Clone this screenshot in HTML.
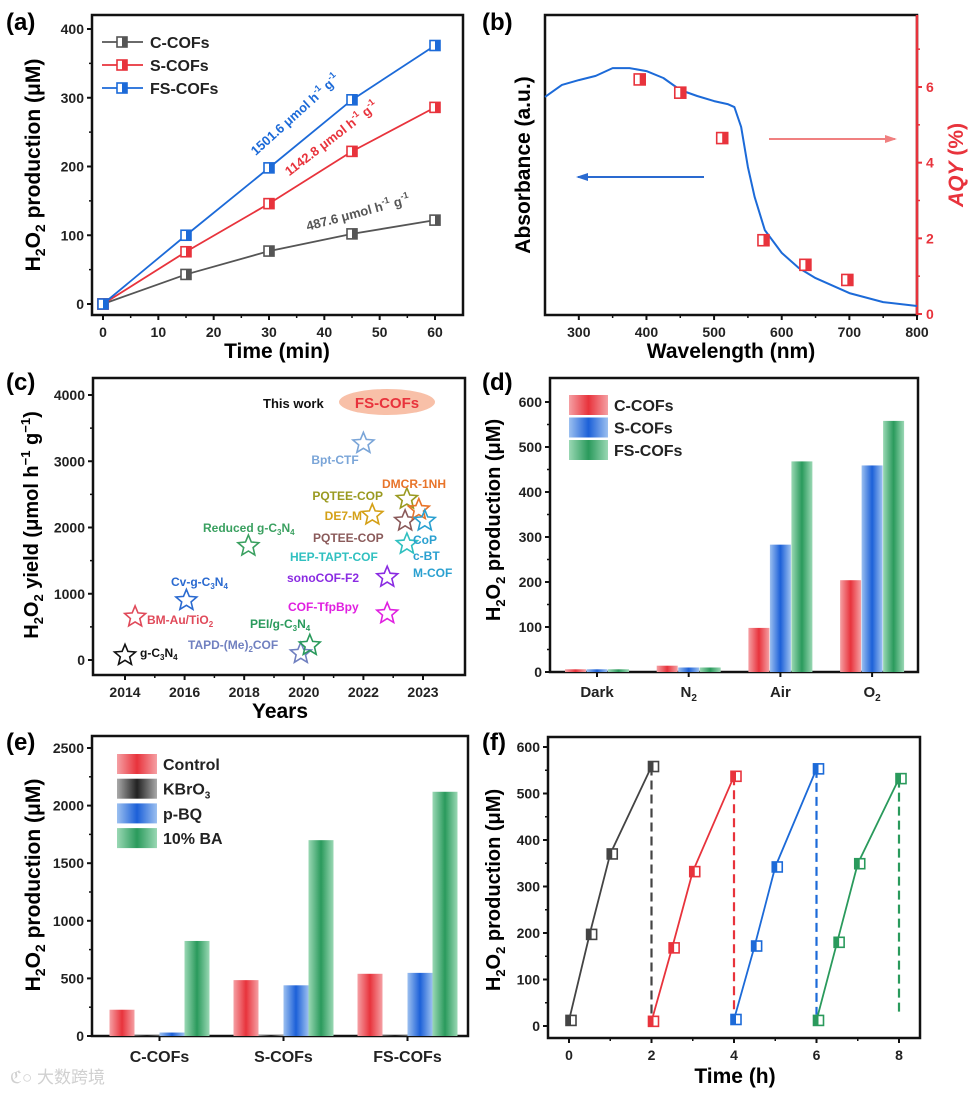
<!DOCTYPE html>
<html><head><meta charset="utf-8">
<style>
html,body{margin:0;padding:0;background:#fff;}
svg{display:block;font-family:"Liberation Sans","Noto Sans CJK SC",sans-serif;font-weight:bold;}
</style></head>
<body>
<svg id="fig" width="974" height="1094" viewBox="0 0 974 1094" xmlns="http://www.w3.org/2000/svg">
<defs>
<linearGradient id="gRed" x1="0" x2="1" y1="0" y2="0"><stop offset="0" stop-color="#f5a0a4"/><stop offset="0.5" stop-color="#e8333c"/><stop offset="1" stop-color="#f5a0a4"/></linearGradient>
<linearGradient id="gBlue" x1="0" x2="1" y1="0" y2="0"><stop offset="0" stop-color="#9cc0f0"/><stop offset="0.5" stop-color="#1c60d8"/><stop offset="1" stop-color="#9cc0f0"/></linearGradient>
<linearGradient id="gGreen" x1="0" x2="1" y1="0" y2="0"><stop offset="0" stop-color="#9ad8b4"/><stop offset="0.5" stop-color="#2a9a5c"/><stop offset="1" stop-color="#9ad8b4"/></linearGradient>
<linearGradient id="gBlack" x1="0" x2="1" y1="0" y2="0"><stop offset="0" stop-color="#aaa"/><stop offset="0.5" stop-color="#222"/><stop offset="1" stop-color="#aaa"/></linearGradient>
<marker id="arrB" markerWidth="6" markerHeight="4" refX="5" refY="2" orient="auto"><path d="M0,0 L6,2 L0,4 Z" fill="#2a6ad0"/></marker>
<marker id="arrR" markerWidth="6" markerHeight="4" refX="5" refY="2" orient="auto"><path d="M0,0 L6,2 L0,4 Z" fill="#f08080"/></marker>
</defs>

<text x="6" y="30" font-size="24">(a)</text>
<text x="482" y="30" font-size="24">(b)</text>
<text x="6" y="390" font-size="24">(c)</text>
<text x="482" y="390" font-size="24">(d)</text>
<text x="6" y="750" font-size="24">(e)</text>
<text x="482" y="750" font-size="24">(f)</text>

<text x="277" y="358" font-size="21" text-anchor="middle">Time (min)</text>
<text transform="translate(40,165) rotate(-90)" font-size="21" text-anchor="middle">H<tspan font-size="14" dy="5">2</tspan><tspan dy="-5">O</tspan><tspan font-size="14" dy="5">2</tspan><tspan dy="-5"> production (μM)</tspan></text>
<text x="731" y="358" font-size="21" text-anchor="middle">Wavelength (nm)</text>
<text transform="translate(530,165) rotate(-90)" font-size="21" text-anchor="middle">Absorbance  (a.u.)</text>
<text transform="translate(963,165) rotate(-90)" font-size="21" text-anchor="middle" fill="#e8333c" font-style="italic">AQY<tspan font-style="normal"> (%)</tspan></text>
<text x="280" y="718" font-size="21" text-anchor="middle">Years</text>
<text transform="translate(38,525) rotate(-90)" font-size="20" text-anchor="middle">H<tspan font-size="13" dy="5">2</tspan><tspan dy="-5">O</tspan><tspan font-size="13" dy="5">2</tspan><tspan dy="-5"> yield (μmol h</tspan><tspan font-size="13" dy="-8">−1</tspan><tspan dy="8"> g</tspan><tspan font-size="13" dy="-8">−1</tspan><tspan dy="8">)</tspan></text>
<text transform="translate(500,520) rotate(-90)" font-size="20" text-anchor="middle">H<tspan font-size="13" dy="5">2</tspan><tspan dy="-5">O</tspan><tspan font-size="13" dy="5">2</tspan><tspan dy="-5"> production (μM)</tspan></text>
<text transform="translate(40,885) rotate(-90)" font-size="21" text-anchor="middle">H<tspan font-size="14" dy="5">2</tspan><tspan dy="-5">O</tspan><tspan font-size="14" dy="5">2</tspan><tspan dy="-5"> production (μM)</tspan></text>
<text transform="translate(500,890) rotate(-90)" font-size="20" text-anchor="middle">H<tspan font-size="13" dy="5">2</tspan><tspan dy="-5">O</tspan><tspan font-size="13" dy="5">2</tspan><tspan dy="-5"> production (μM)</tspan></text>
<text x="735" y="1083" font-size="21" text-anchor="middle">Time (h)</text>
<text x="10" y="1083" font-size="17" fill="#d0d0d0" font-weight="normal">ℭ○ 大数跨境</text>
</svg>
<script>
// (a)
const aTimes=[0,15,30,45,60];
const aC=[0,43,77,102,122];
const aS=[0,76,146,222,286];
const aFS=[0,100,198,297,376];
const aXTicks=[0,10,20,30,40,50,60];
const aYTicks=[0,100,200,300,400];
// (b)
const bWl=[250,275,300,325,350,375,400,425,450,475,500,520,530,540,550,560,575,600,625,650,700,750,800];
const bAbs=[0.727,0.767,0.783,0.797,0.823,0.823,0.813,0.79,0.75,0.73,0.713,0.703,0.693,0.627,0.493,0.393,0.283,0.207,0.157,0.123,0.073,0.043,0.03];
const bAqyWl=[390,450,512,573,635,697];
const bAqy=[6.2,5.85,4.65,1.95,1.3,0.9];
const bXTicks=[300,400,500,600,700,800];
const bY2Ticks=[0,2,4,6];
// (c)
const cYearLabels=["2014","2016","2018","2020","2022","2023"];
const cNames=["g-C3N4","BM-Au/TiO2","Cv-g-C3N4","Reduced g-C3N4","TAPD-(Me)2COF","PEI/g-C3N4","Bpt-CTF","DE7-M","PQTEE-COP","PQTEE-COP (2)","DMCR-1NH","CoP c-BT M-COF","HEP-TAPT-COF","sonoCOF-F2","COF-TfpBpy"];
const cPos=[0,0.17,1.03,2.07,2.95,3.1,4.0,4.15,4.73,4.7,4.93,5.03,4.73,4.4,4.4];
const cYield=[70,650,900,1720,100,220,3270,2190,2430,2100,2270,2100,1750,1250,700];
const cColors=["#111","#e04a5a","#2a6ad0","#3aa060","#7080c0","#2a9a5c","#7aa5d8","#d4a017","#9a9a20","#8a5a5a","#e8742a","#2aa0d0","#30c0c0","#8a2be2","#e020e0"];
const cYTicks=[0,1000,2000,3000,4000];
// (d)
const dCats=["Dark","N2","Air","O2"];
const dC=[6,14,98,204];
const dS=[6,10,283,459];
const dFS=[6,10,468,558];
const dYTicks=[0,100,200,300,400,500,600];
// (e)
const eCats=["C-COFs","S-COFs","FS-COFs"];
const eControl=[228,485,540];
const eKBrO3=[5,8,5];
const ePBQ=[30,440,548];
const eBA=[825,1700,2120];
const eYTicks=[0,500,1000,1500,2000,2500];
// (f)
const fCycle1T=[0,0.5,1,2]; const fCycle1=[12,197,370,558];
const fCycle2T=[2,2.5,3,4]; const fCycle2=[10,168,332,537];
const fCycle3T=[4,4.5,5,6]; const fCycle3=[14,172,342,553];
const fCycle4T=[6,6.5,7,8]; const fCycle4=[12,180,349,532];
const fXTicks=[0,2,4,6,8];
const fYTicks=[0,100,200,300,400,500,600];

const NS="http://www.w3.org/2000/svg";
const svg=document.getElementById('fig');
function E(tag,attrs,parent){const e=document.createElementNS(NS,tag);for(const k in attrs)e.setAttribute(k,attrs[k]);(parent||svg).appendChild(e);return e;}
function lin(d0,d1,p0,p1){return v=>p0+(v-d0)*(p1-p0)/(d1-d0);}
function frame(name,x0,y0,x1,y1,rightColor){
  const r=E('rect',{x:x0,y:y0,width:x1-x0,height:y1-y0,fill:'none',stroke:'#111','stroke-width':2.5});
  
  
  if(rightColor){const l=E('line',{x1:x1,y1:y0,x2:x1,y2:y1,stroke:rightColor,'stroke-width':2.5});
    
    }
}
function yTicks(prefix,ticks,sy,x0,fs,col){
  ticks.forEach((t,i)=>{
    const l=E('line',{x1:x0-5,x2:x0,y1:sy(t),y2:sy(t),stroke:col||'#111','stroke-width':2});
    
    
    const tx=E('text',{x:x0-8,y:sy(t)+5,'font-size':fs||14,'text-anchor':'end',fill:col||'#222'});
    tx.textContent=t;
    
    
    if(i<ticks.length-1){const m=(t+ticks[i+1])/2;
      const ml=E('line',{x1:x0-3,x2:x0,y1:sy(m),y2:sy(m),stroke:col||'#111','stroke-width':1.5});
      
      }
  });
}
function xTicks(prefix,ticks,sx,y0,labels,fs){
  ticks.forEach((t,i)=>{
    const l=E('line',{x1:sx(t),x2:sx(t),y1:y0,y2:y0+5,stroke:'#111','stroke-width':2});
    
    
    const tx=E('text',{x:sx(t),y:y0+22,'font-size':fs||14,'text-anchor':'middle',fill:'#222'});
    tx.textContent=labels?labels[i]:t;
    
    
    if(i<ticks.length-1){const m=(t+ticks[i+1])/2;
      const ml=E('line',{x1:sx(m),x2:sx(m),y1:y0,y2:y0+3,stroke:'#111','stroke-width':1.5});
      
      }
  });
}
function halfMarker(x,y,s,col,leftFilled){
  const g=E('g',{});
  E('rect',{x:x-s/2,y:y-s/2,width:s,height:s,fill:'#fff',stroke:col,'stroke-width':1.6},g);
  E('rect',{x:leftFilled?x-s/2:x,y:y-s/2,width:s/2,height:s,fill:col},g);
  return g;
}
function polyline(xs,ys,col,w){
  return E('polyline',{points:xs.map((x,i)=>x+','+ys[i]).join(' '),fill:'none',stroke:col,'stroke-width':w||1.8});
}

// (a)
{
 const sx=lin(0,60,103,435), sy=lin(0,400,304,29);
 frame('a-plot-frame',92,15,463,315);
 yTicks('a',aYTicks,sy,92);
 xTicks('a',aXTicks,sx,315);
 const series=[[aC,'#555','c-cofs'],[aS,'#e8333c','s-cofs'],[aFS,'#1c6ad8','fs-cofs']];
 series.forEach(([vals,col,nm])=>{
   const pl=polyline(aTimes.map(sx),vals.map(sy),col,1.8);
   
   
   vals.forEach((v,i)=>{const m=halfMarker(sx(aTimes[i]),sy(v),10,col,false);
     
     });
 });
 const leg=[['C-COFs','#555'],['S-COFs','#e8333c'],['FS-COFs','#1c6ad8']];
 leg.forEach(([t,col],i)=>{
   const y=42+i*23;
   const g=E('g',{});
   
   
   E('line',{x1:102,x2:143,y1:y,y2:y,stroke:col,'stroke-width':1.8},g);
   g.appendChild(halfMarker(122,y,10,col,false));
   const tx=E('text',{x:150,y:y+6,'font-size':16,fill:'#222'},g);tx.textContent=t;
 });
 const ann=[['1501.6',298,118,-42,'#1c6ad8'],['1142.8',334,142,-37.5,'#e8333c'],['487.6',359,217,-15,'#555']];
 ann.forEach(([v,x,y,a,col])=>{
   const tx=E('text',{transform:`translate(${x},${y}) rotate(${a})`,'font-size':13,'text-anchor':'middle',fill:col});
   tx.innerHTML=v+' μmol h<tspan font-size="9" dy="-6">-1</tspan><tspan dy="6"> g</tspan><tspan font-size="9" dy="-6">-1</tspan>';
   
   
 });
}

// (b)
{
 const sx=lin(250,800,545,917), sy=lin(0,1,315,15), sy2=lin(0,6,314,87);
 frame('b-plot-frame',545,15,917,315,'#e8333c');
 xTicks('b',bXTicks,sx,315);
 bY2Ticks.forEach((t,i)=>{
   const l=E('line',{x1:917,x2:922,y1:sy2(t),y2:sy2(t),stroke:'#e8333c','stroke-width':2});
   
   
   const tx=E('text',{x:926,y:sy2(t)+5,'font-size':14,fill:'#e8333c'});tx.textContent=t;
   
   
   const m=E('line',{x1:917,x2:920,y1:sy2(t+1),y2:sy2(t+1),stroke:'#e8333c','stroke-width':1.5});
   
   
 });
 const pl=E('path',{d:'',fill:'none',stroke:'#1c6ad8','stroke-width':2});
 let d='';bWl.forEach((w,i)=>{d+=(i?'L':'M')+sx(w)+','+sy(bAbs[i]);});
 pl.setAttribute('d',d);
 pl.setAttribute('stroke-linejoin','round');
 
 
 bAqyWl.forEach((w,i)=>{const m=halfMarker(sx(w),sy2(bAqy[i]),11,'#e8333c',false);
   
   });
 const a1=E('line',{x1:704,y1:177,x2:578,y2:177,stroke:'#2a6ad0','stroke-width':2,'marker-end':'url(#arrB)'});
 
 
 const a2=E('line',{x1:769,y1:139,x2:895,y2:139,stroke:'#f08080','stroke-width':2,'marker-end':'url(#arrR)'});
 
 
}

// (c)
{
 const sx=lin(0,5,125,423), sy=lin(0,4000,660,395);
 frame('c-plot-frame',93,378,465,675);
 yTicks('c',cYTicks,sy,93);
 xTicks('c',[0,1,2,3,4,5],sx,675,cYearLabels);
 function star(cx,cy,r,col){
   let p='';for(let k=0;k<10;k++){const rr=k%2?r*0.45:r;const a=-Math.PI/2+k*Math.PI/5;p+=(k?'L':'M')+(cx+rr*Math.cos(a)).toFixed(1)+','+(cy+rr*Math.sin(a)).toFixed(1);}
   return E('path',{d:p+'Z',fill:'none',stroke:col,'stroke-width':1.6});
 }
 cNames.forEach((n,i)=>{const s=star(sx(cPos[i]),sy(cYield[i]),11,cColors[i]);
   
   });
 const labels=[
  ['g-C<tspan font-size="8" dy="3">3</tspan><tspan dy="-3">N</tspan><tspan font-size="8" dy="3">4</tspan>',140,657,'start','#111'],
  ['BM-Au/TiO<tspan font-size="8" dy="3">2</tspan>',147,624,'start','#e04a5a'],
  ['Cv-g-C<tspan font-size="8" dy="3">3</tspan><tspan dy="-3">N</tspan><tspan font-size="8" dy="3">4</tspan>',171,586,'start','#2a6ad0'],
  ['Reduced g-C<tspan font-size="8" dy="3">3</tspan><tspan dy="-3">N</tspan><tspan font-size="8" dy="3">4</tspan>',203,532,'start','#3aa060'],
  ['TAPD-(Me)<tspan font-size="8" dy="3">2</tspan><tspan dy="-3">COF</tspan>',188,649,'start','#7080c0'],
  ['PEI/g-C<tspan font-size="8" dy="3">3</tspan><tspan dy="-3">N</tspan><tspan font-size="8" dy="3">4</tspan>',250,628,'start','#2a9a5c'],
  ['Bpt-CTF',335,464,'middle','#7aa5d8'],
  ['DE7-M',362,520,'end','#d4a017'],
  ['PQTEE-COP',383,500,'end','#9a9a20'],
  ['PQTEE-COP',313,542,'start','#8a5a5a'],
  ['DMCR-1NH',382,488,'start','#e8742a'],
  ['CoP',413,544,'start','#2aa0d0'],
  ['c-BT',413,560,'start','#2aa0d0'],
  ['M-COF',413,577,'start','#2aa0d0'],
  ['HEP-TAPT-COF',290,561,'start','#30c0c0'],
  ['sonoCOF-F2',287,582,'start','#8a2be2'],
  ['COF-TfpBpy',288,611,'start','#e020e0']];
 labels.forEach(([t,x,y,a,col])=>{const tx=E('text',{x:x,y:y,'font-size':12,'text-anchor':a,fill:col});tx.innerHTML=t;
   
   });
 const tw=E('text',{x:263,y:408,'font-size':13,fill:'#111'});tw.textContent='This work';
 
 
 const el=E('ellipse',{cx:387,cy:402,rx:48,ry:13,fill:'#f8c0a8'});
 
 
 const fs=E('text',{x:387,y:408,'font-size':15,'text-anchor':'middle',fill:'#e8333c'});fs.textContent='FS-COFs';
 
 
}

// (d)
{
 const sy=lin(0,600,672,402);
 const cx=i=>597+i*91.7;
 frame('d-plot-frame',550,378,918,672);
 yTicks('d',dYTicks,sy,550);
 const series=[[dC,'url(#gRed)','c-cofs'],[dS,'url(#gBlue)','s-cofs'],[dFS,'url(#gGreen)','fs-cofs']];
 series.forEach(([vals,fill,nm],j)=>{
   vals.forEach((v,i)=>{const x=cx(i)+(j-1)*21.5;
     const b=E('rect',{x:x-10.5,y:sy(v),width:21,height:672-sy(v),fill:fill});
     
     });
 });
 const catLabels=['Dark','N<tspan font-size="10" dy="4">2</tspan>','Air','O<tspan font-size="10" dy="4">2</tspan>'];
 catLabels.forEach((t,i)=>{
   const l=E('line',{x1:cx(i),x2:cx(i),y1:672,y2:677,stroke:'#111','stroke-width':2});
   
   
   const tx=E('text',{x:cx(i),y:697,'font-size':15,'text-anchor':'middle',fill:'#222'});tx.innerHTML=t;
   
   });
 [['C-COFs','url(#gRed)'],['S-COFs','url(#gBlue)'],['FS-COFs','url(#gGreen)']].forEach(([t,f],i)=>{
   const g=E('g',{});
   
   
   const y=405+i*22.5;
   E('rect',{x:569,y:y-10,width:39,height:20,fill:f},g);
   const tx=E('text',{x:614,y:y+6,'font-size':16,fill:'#222'},g);tx.textContent=t;
 });
}

// (e)
{
 const sy=lin(0,2500,1036,748);
 const cx=i=>159.5+i*124;
 frame('e-plot-frame',92,736,468,1036);
 yTicks('e',eYTicks,sy,92);
 const series=[[eControl,'url(#gRed)','control'],[eKBrO3,'url(#gBlack)','kbro3'],[ePBQ,'url(#gBlue)','p-bq'],[eBA,'url(#gGreen)','ba']];
 series.forEach(([vals,fill,nm],j)=>{
   vals.forEach((v,i)=>{const x=cx(i)+(j-1.5)*25;
     const b=E('rect',{x:x-12.5,y:sy(v),width:25,height:1036-sy(v),fill:fill});
     
     });
 });
 eCats.forEach((t,i)=>{
   const l=E('line',{x1:cx(i),x2:cx(i),y1:1036,y2:1041,stroke:'#111','stroke-width':2});
   
   
   const tx=E('text',{x:cx(i),y:1062,'font-size':16,'text-anchor':'middle',fill:'#222'});tx.textContent=t;
   
   });
 [['Control','url(#gRed)'],['KBrO<tspan font-size="10" dy="4">3</tspan>','url(#gBlack)'],['p-BQ','url(#gBlue)'],['10% BA','url(#gGreen)']].forEach(([t,f],i)=>{
   const g=E('g',{});
   
   
   const y=764+i*24.7;
   E('rect',{x:117,y:y-10,width:40,height:20,fill:f},g);
   const tx=E('text',{x:163,y:y+6,'font-size':16,fill:'#222'},g);tx.innerHTML=t;
 });
}

// (f)
{
 const sx=lin(0,8,569,899), sy=lin(0,600,1026,747);
 frame('f-plot-frame',548,737,920,1038);
 yTicks('f',fYTicks,sy,548);
 xTicks('f',fXTicks,sx,1038);
 const cyc=[[fCycle1T,fCycle1,'#444'],[fCycle2T,fCycle2,'#e8333c'],[fCycle3T,fCycle3,'#1c6ad8'],[fCycle4T,fCycle4,'#2a9a5c']];
 cyc.forEach(([ts,vs,col],k)=>{
   const last=ts.length-1;
   const dl=E('line',{x1:sx(ts[last]),x2:sx(ts[last]),y1:sy(vs[last]),y2:sy(vs[last]*0.03+8),stroke:col,'stroke-width':2.2,'stroke-dasharray':'9,5'});
   
   
   const pl=polyline(ts.map(sx),vs.map(sy),col,1.8);
   
   
   vs.forEach((v,i)=>{const m=halfMarker(sx(ts[i])+2,sy(v),10,col,true);
     
     });
 });
}
</script>
</body></html>
